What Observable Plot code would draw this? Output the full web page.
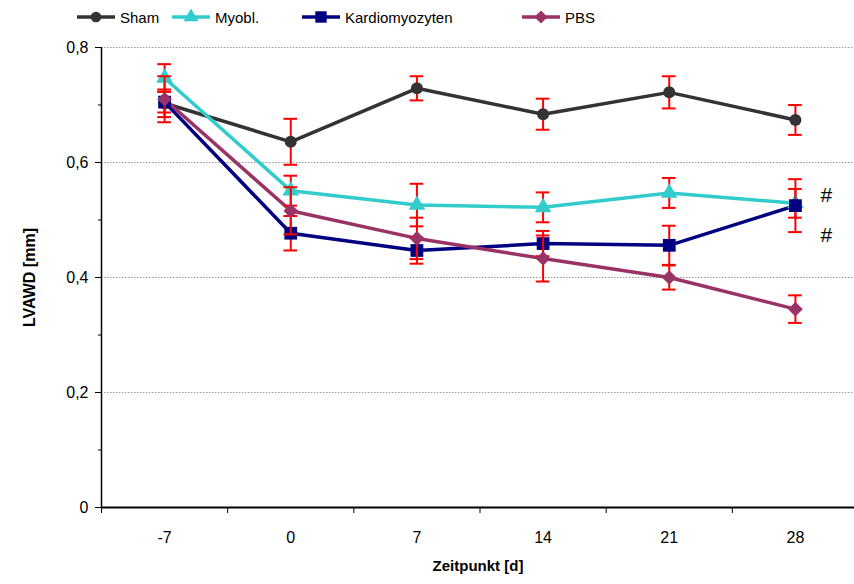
<!DOCTYPE html>
<html><head><meta charset="utf-8">
<script src="https://cdn.jsdelivr.net/npm/d3@7"></script>
<script src="https://cdn.jsdelivr.net/npm/@observablehq/plot@0.6"></script>
<style>
body{margin:0;background:#fff;font-family:"Liberation Sans",Arial,sans-serif;}
#legend{position:relative;height:34px;width:854px;font-size:15px;color:#000;}
.item{position:absolute;top:8px;display:flex;align-items:center;height:18px}
.item svg{margin-right:5px}
#chart svg{display:block}
g[aria-label="x-axis label"] text{font-weight:bold;font-size:15px}
g[aria-label="y-axis label"] text{font-weight:bold;font-size:16px}
g[aria-label="x-axis tick label"] text, g[aria-label="y-axis tick label"] text{font-size:16px}
</style></head><body>
<div id="legend"></div><div id="chart"></div>
<script>
const days = [-7, 0, 7, 14, 21, 28];
const seriesNames = ["Sham", "Myobl.", "Kardiomyozyten", "PBS"];
const colors = ["#333333", "#33CCCC", "#000080", "#993366"];
const symbols = ["circle", "triangle", "square", "diamond2"];
const shamValues = [0.703, 0.636, 0.729, 0.684, 0.722, 0.674];
const shamErrors = [0.024, 0.040, 0.021, 0.027, 0.028, 0.026];
const myoblValues = [0.747, 0.551, 0.526, 0.522, 0.547, 0.529];
const myoblErrors = [0.024, 0.026, 0.037, 0.026, 0.026, 0.025];
const kardioValues = [0.705, 0.477, 0.447, 0.459, 0.456, 0.525];
const kardioErrors = [0.018, 0.030, 0.023, 0.022, 0.034, 0.046];
const pbsValues = [0.710, 0.516, 0.468, 0.433, 0.400, 0.345];
const pbsErrors = [0.040, 0.041, 0.036, 0.040, 0.021, 0.024];
const yTicks = [0, 0.2, 0.4, 0.6, 0.8];
const yMinorTicks = [0.1, 0.3, 0.5, 0.7];
const hashDay = 28;
const hashValues = [0.543, 0.473];

// layout (legend placement)
const legendLeft = [77, 172, 302, 522];
const legendLine = 38;

const valueArrays = [shamValues, myoblValues, kardioValues, pbsValues];
const errorArrays = [shamErrors, myoblErrors, kardioErrors, pbsErrors];
const rows = [];
seriesNames.forEach((s, i) => days.forEach((d, j) => rows.push({series: s, day: d, value: valueArrays[i][j], err: errorArrays[i][j]})));

const step = 7;
const xDomain = [days[0] - step / 2, days[days.length - 1] + step / 2];
const boundaries = days.map(d => d - step / 2);
const capHalf = 0.38;
const radii = {circle: 6, triangle: 6.2, square: 7.2, diamond2: 6.6};

// legend
const legend = document.getElementById("legend");
const symName = {circle: "Circle", triangle: "Triangle", square: "Square", diamond2: "Diamond2"};
seriesNames.forEach((s, i) => {
  const item = document.createElement("div");
  item.className = "item";
  item.style.left = legendLeft[i] + "px";
  const path = d3.symbol(d3["symbol" + symName[symbols[i]]], Math.PI * radii[symbols[i]] ** 2 * 0.8)();
  item.innerHTML = `<svg width="${legendLine}" height="18"><line x1="0" x2="${legendLine}" y1="9" y2="9" stroke="${colors[i]}" stroke-width="3.5"/><path d="${path}" transform="translate(${legendLine / 2},9)" fill="${colors[i]}"/></svg><span>${s}</span>`;
  legend.appendChild(item);
});

const fmt = d => d === 0 ? "0" : d3.format(".1f")(d).replace(".", ",");
const marks = [
  Plot.gridY(yTicks.slice(1), {stroke: "#999", strokeOpacity: 1, strokeDasharray: "1.5,1.5"}),
  Plot.axisY({ticks: yTicks, tickFormat: fmt, tickSize: 6, tickPadding: 7, label: "LVAWD [mm]", labelAnchor: "center", labelArrow: "none", labelOffset: 78}),
  Plot.axisY({ticks: yMinorTicks, tickFormat: () => "", tickSize: 3, label: null}),
  Plot.axisX({ticks: boundaries, tickFormat: () => "", tickSize: 6, label: null}),
  Plot.axisX({ticks: days, tickFormat: d => String(d), tickSize: 0, tickPadding: 24, label: "Zeitpunkt [d]", labelAnchor: "center", labelArrow: "none", labelOffset: 63}),
  Plot.ruleX([xDomain[0]], {y1: yTicks[0], y2: yTicks[yTicks.length - 1], stroke: "#000", strokeWidth: 1.5}),
  Plot.ruleY([0], {stroke: "#000", strokeWidth: 1.8}),
  Plot.line(rows, {x: "day", y: "value", z: "series", stroke: "series", strokeWidth: 3.5})
];
seriesNames.forEach((s, i) => {
  const data = rows.filter(r => r.series === s);
  marks.push(
    Plot.ruleX(data, {x: "day", y1: d => d.value - d.err, y2: d => d.value + d.err, stroke: "#ff0000", strokeWidth: 2}),
    Plot.ruleY(data, {y: d => d.value - d.err, x1: d => d.day - capHalf, x2: d => d.day + capHalf, stroke: "#ff0000", strokeWidth: 2}),
    Plot.ruleY(data, {y: d => d.value + d.err, x1: d => d.day - capHalf, x2: d => d.day + capHalf, stroke: "#ff0000", strokeWidth: 2}),
    Plot.dot(data, {x: "day", y: "value", symbol: () => symbols[i], fill: colors[i], stroke: "none", r: radii[symbols[i]]})
  );
});
marks.push(Plot.text(hashValues, {x: () => hashDay, y: d => d, text: () => "#", dx: 31, fontSize: 21}));

const chart = Plot.plot({
  width: 854, height: 550,
  marginTop: 13, marginBottom: 77, marginLeft: 101, marginRight: 0,
  style: {fontSize: "15px", fontFamily: "Liberation Sans, Arial, sans-serif", background: "#fff", color: "#000"},
  x: {domain: xDomain, range: [101, 858]},
  y: {domain: [0, 0.8]},
  symbol: {type: "identity"},
  color: {domain: seriesNames, range: colors},
  marks
});
document.getElementById("chart").appendChild(chart);
</script>
</body></html>
